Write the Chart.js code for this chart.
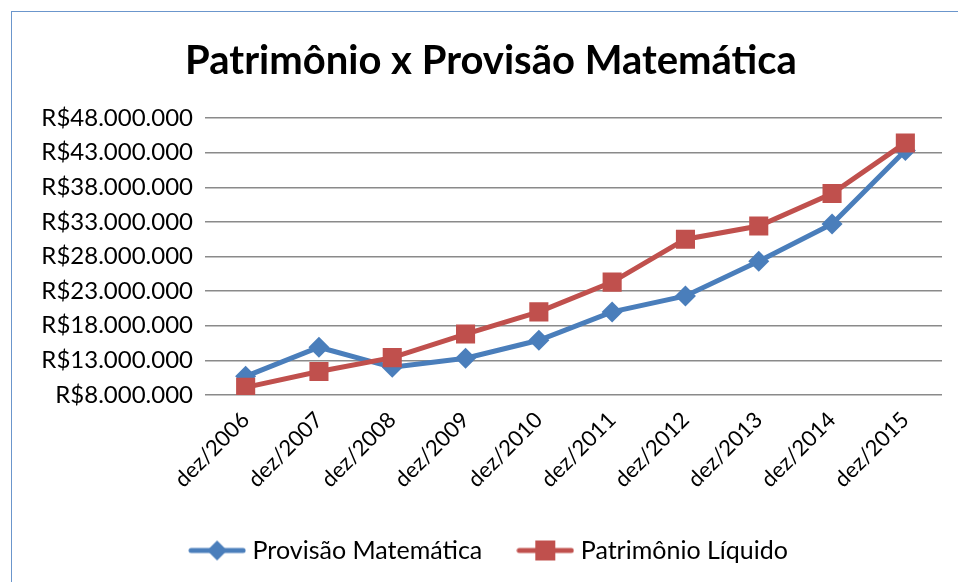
<!DOCTYPE html>
<html>
<head>
<meta charset="utf-8">
<script src="https://cdn.jsdelivr.net/npm/chart.js@4.4.1/dist/chart.umd.min.js"></script>
<style>
html, body { margin: 0; padding: 0; background: #fff; overflow: hidden; }
#wrap { position: relative; width: 958px; height: 582px; }
#frame { position: absolute; left: 11px; top: 11px; width: 960px; height: 580px; border: 1px solid #6b96cc; pointer-events: none; }
</style>
</head>
<body>
<div id="wrap">
  <canvas id="chart" width="958" height="582"></canvas>
  <div id="frame"></div>
</div>
<script>
const labels = ['dez/2006', 'dez/2007', 'dez/2008', 'dez/2009', 'dez/2010', 'dez/2011', 'dez/2012', 'dez/2013', 'dez/2014', 'dez/2015'];
const provisao = [10700000, 14900000, 12000000, 13300000, 15900000, 20000000, 22300000, 27300000, 32700000, 43300000];
const patrimonio = [9100000, 11400000, 13400000, 16800000, 20000000, 24300000, 30500000, 32400000, 37100000, 44400000];
const yMin = 8000000;
const yMax = 48000000;
const yStep = 5000000;

const blue = '#4a7ebb';
const red = '#c0504d';
const font = 'Lato, "Open Sans", sans-serif';

function brl(v) {
  return 'R$' + String(Math.round(v)).replace(/\B(?=(\d{3})+(?!\d))/g, '.');
}

// line + marker swatch for the legend
function swatch(color, shape) {
  const c = document.createElement('canvas');
  c.width = 58; c.height = 24;
  const g = c.getContext('2d');
  g.strokeStyle = color;
  g.fillStyle = color;
  g.lineWidth = 5;
  g.lineCap = 'round';
  g.beginPath(); g.moveTo(3, 12); g.lineTo(55, 12); g.stroke();
  g.beginPath();
  if (shape === 'diamond') {
    g.moveTo(29, 2); g.lineTo(39, 12); g.lineTo(29, 22); g.lineTo(19, 12); g.closePath();
  } else {
    g.rect(19, 2, 20, 20);
  }
  g.fill();
  return c;
}
const swatches = [swatch(blue, 'diamond'), swatch(red, 'square')];

const ctx = document.getElementById('chart');
new Chart(ctx, {
  type: 'line',
  data: {
    labels: labels,
    datasets: [
      {
        label: 'Provisão Matemática',
        data: provisao,
        borderColor: blue,
        backgroundColor: blue,
        borderWidth: 5,
        pointStyle: 'rectRot',
        pointRadius: 10.5,
        pointHoverRadius: 10.5,
        pointBorderWidth: 0,
        order: 1,
      },
      {
        label: 'Patrimônio Líquido',
        data: patrimonio,
        borderColor: red,
        backgroundColor: red,
        borderWidth: 5,
        pointStyle: 'rect',
        pointRadius: 13.5,
        pointHoverRadius: 13.5,
        pointBorderWidth: 0,
        order: 0,
      }
    ]
  },
  options: {
    responsive: false,
    animation: false,
    layout: { padding: { left: 40, right: 16, top: 0, bottom: 9 } },
    plugins: {
      title: {
        display: true,
        text: 'Patrimônio x Provisão Matemática',
        color: '#000',
        font: { family: font, size: 40, weight: 'bold' },
        padding: { top: 37, bottom: 33 },
      },
      legend: {
        position: 'bottom',
        labels: {
          usePointStyle: true,
          pointStyleWidth: 46,
          padding: 40,
          color: '#000',
          font: { family: font, size: 25 },
          generateLabels: chart => chart.data.datasets.map((ds, i) => ({
            text: ds.label,
            pointStyle: swatches[i],
            fillStyle: ds.borderColor,
            strokeStyle: ds.borderColor,
            lineWidth: 0,
            hidden: false,
            datasetIndex: i,
            fontColor: '#000',
          })),
        },
      },
      tooltip: { enabled: false },
    },
    scales: {
      x: {
        offset: true,
        grid: { display: false },
        border: { display: false },
        ticks: { minRotation: 45, maxRotation: 45, color: '#000', font: { family: font, size: 22 }, padding: 4 },
        afterFit: s => { s.height = 103; },
      },
      y: {
        min: yMin,
        max: yMax,
        ticks: { stepSize: yStep, callback: brl, color: '#000', font: { family: font, size: 24 }, padding: 12 },
        grid: { color: '#8a8a8a', lineWidth: 1.5, tickLength: 4 },
        border: { display: false },
        afterFit: s => { s.width = 169; },
      },
    },
  },
});
</script>
</body>
</html>
